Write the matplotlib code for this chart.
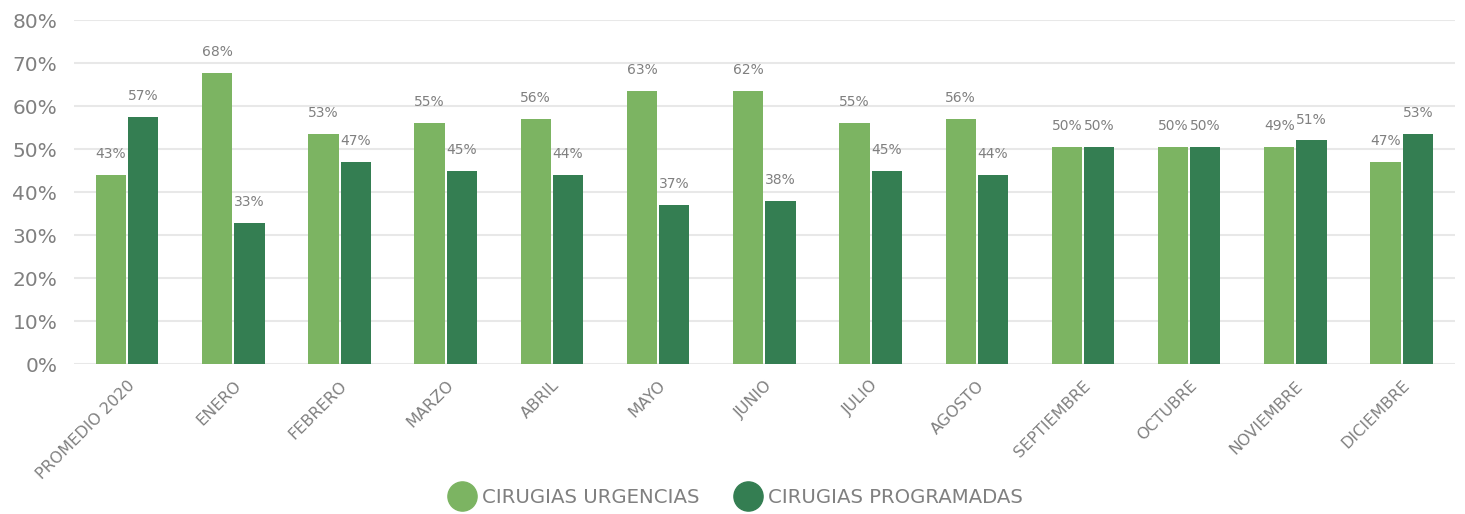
import numpy as np
import matplotlib
matplotlib.use("Agg")
import matplotlib.pyplot as plt
from matplotlib.lines import Line2D

# datos
meses = ["PROMEDIO 2020", "ENERO", "FEBRERO", "MARZO", "ABRIL", "MAYO", "JUNIO",
         "JULIO", "AGOSTO", "SEPTIEMBRE", "OCTUBRE", "NOVIEMBRE", "DICIEMBRE"]
urgencias = [44, 67.7, 53.5, 56, 57, 63.5, 63.5, 56, 57, 50.5, 50.5, 50.5, 47]
programadas = [57.5, 32.8, 47, 45, 44, 37, 38, 45, 44, 50.5, 50.5, 52, 53.5]
etq_urgencias = ["43%", "68%", "53%", "55%", "56%", "63%", "62%", "55%", "56%", "50%", "50%", "49%", "47%"]
etq_programadas = ["57%", "33%", "47%", "45%", "44%", "37%", "38%", "45%", "44%", "50%", "50%", "51%", "53%"]

c_urg = "#7cb462"
c_prog = "#347e52"
gris = "#808080"

fig = plt.figure(figsize=(14.65, 5.14), dpi=100)
ax = fig.add_axes([0.0505, 0.2918, 0.9425, 0.6692])

x = np.arange(len(meses))
w = 0.285
ax.bar(x - 0.152, urgencias, w, color=c_urg, zorder=3)
ax.bar(x + 0.152, programadas, w, color=c_prog, zorder=3)

for i in range(len(meses)):
    ax.annotate(etq_urgencias[i], (x[i] - 0.152, urgencias[i]), xytext=(0, 10),
                textcoords="offset points", ha="center", va="bottom", fontsize=10, color=gris)
    ax.annotate(etq_programadas[i], (x[i] + 0.152, programadas[i]), xytext=(0, 10),
                textcoords="offset points", ha="center", va="bottom", fontsize=10, color=gris)

ax.set_xlim(-0.5, len(meses) - 0.5)
ax.set_ylim(0, 80)
ax.set_yticks(range(0, 81, 10))
ax.set_yticklabels([f"{v}%" for v in range(0, 81, 10)], fontsize=14.5, color=gris)
ax.set_xticks(x)
ax.set_xticklabels(meses, rotation=45, ha="right", rotation_mode="anchor", fontsize=11.5, color=gris)
ax.tick_params(axis="y", length=0, pad=12)
ax.tick_params(axis="x", length=0, pad=10)
ax.grid(axis="y", color="#e8e8e8", linewidth=1.5, zorder=0)
for s in ax.spines.values():
    s.set_visible(False)

handles = [Line2D([], [], marker="o", linestyle="", markersize=21, color=c_urg),
           Line2D([], [], marker="o", linestyle="", markersize=21, color=c_prog)]
fig.legend(handles, ["CIRUGIAS URGENCIAS", "CIRUGIAS PROGRAMADAS"], loc="center",
           bbox_to_anchor=(0.5, 0.032), ncol=2, frameon=False, fontsize=14.2,
           handletextpad=0.0, columnspacing=1.5, labelcolor=gris)

fig.savefig("out.png", dpi=100)
